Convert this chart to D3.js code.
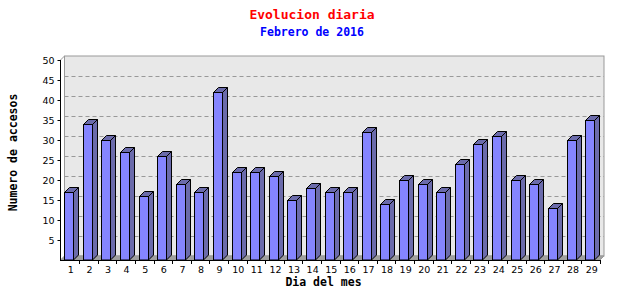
<!DOCTYPE html>
<html>
<head>
<meta charset="utf-8">
<script src="https://cdn.jsdelivr.net/npm/d3@7"></script>
<style>
    body { margin: 0; background: #fff; }
    svg { display: block; }
</style>
</head>
<body>
<div id="chart"></div>
<script>
//---------------------------------//
// Data                            //
//---------------------------------//

var days = ['1','2','3','4','5','6','7','8','9','10','11','12','13','14','15',
            '16','17','18','19','20','21','22','23','24','25','26','27','28','29'];
var visits = [17, 34, 30, 27, 16, 26, 19, 17, 42, 22, 22, 21, 15, 18, 17,
              17, 32, 14, 20, 19, 17, 24, 29, 31, 20, 19, 13, 30, 35];
var yTicks = [5, 10, 15, 20, 25, 30, 35, 40, 45, 50];

var title = 'Evolucion diaria';
var subtitle = 'Febrero de 2016';
var xTitle = 'Dia del mes';
var yTitle = 'Numero de accesos';

//---------------------------------//
// Chart                           //
//---------------------------------//

var Chart = {};

Chart.init = function() {
    Chart.width = 640;
    Chart.height = 300;
    Chart.depth = 4;                 //3D offset of the back wall
    Chart.barDepth = 5;              //3D offset of the bars
    Chart.mono = '"DejaVu Sans Mono", monospace';

    Chart.svg = d3.select('#chart').append('svg')
        .attr('width', Chart.width)
        .attr('height', Chart.height);

    Chart.x = d3.scaleBand().domain(days).range([60.5, 600]).padding(0);
    Chart.y = d3.scaleLinear().domain([0, 50]).range([260, 60]);

    Chart.drawWall();
    Chart.drawBars();
    Chart.drawAxes();
    Chart.drawTitles();
};

Chart.drawWall = function() {
    var x = Chart.x, y = Chart.y, d = Chart.depth, svg = Chart.svg;
    var left = x.range()[0], right = x.range()[1];

    svg.append('rect')                                   //back wall
        .attr('x', left + d).attr('y', y(50) - d)
        .attr('width', right + d - left - d)
        .attr('height', y(0) - y(50))
        .attr('fill', '#e8e8e8')
        .attr('stroke', '#999');

    svg.append('line')                                   //top-left edge
        .attr('x1', left).attr('y1', y(50))
        .attr('x2', left + d).attr('y2', y(50) - d)
        .attr('stroke', '#999');

    svg.selectAll('.grid').data(yTicks.slice(0, -1)).enter().append('line')
        .attr('x1', left + d).attr('x2', right + d)
        .attr('y1', function(v) { return y(v) - d + 0.5; })
        .attr('y2', function(v) { return y(v) - d + 0.5; })
        .attr('stroke', '#999')
        .attr('stroke-dasharray', '4,3');

    svg.append('polygon')                                //floor
        .attr('points', [[left, y(0)], [right, y(0)], [right + d, y(0) - d], [left + d, y(0) - d]].join(' '))
        .attr('fill', '#a0a0a0')
        .attr('stroke', '#999');
};

Chart.drawBars = function() {
    var x = Chart.x, y = Chart.y, b = Chart.barDepth;
    var step = x.step();

    var g = Chart.svg.selectAll('.bar').data(visits).enter().append('g')
        .attr('stroke', '#000')
        .attr('stroke-width', 1)
        .attr('stroke-linejoin', 'miter');

    var x0 = function(v, i) { return Math.round(x(days[i]) + step * 0.2) + 0.5; };
    var w = 9;

    g.append('polygon')                                  //side face
        .attr('fill', '#6b6bab')
        .attr('points', function(v, i) {
            var a = x0(v, i) + w, top = Math.round(y(v)) + 0.5, bot = y(0);
            return [[a, top], [a + b, top - b], [a + b, bot - b], [a, bot]].join(' ');
        });

    g.append('polygon')                                  //top face
        .attr('fill', '#6b6bab')
        .attr('points', function(v, i) {
            var a = x0(v, i), top = Math.round(y(v)) + 0.5;
            return [[a, top], [a + b, top - b], [a + w + b, top - b], [a + w, top]].join(' ');
        });

    g.append('rect')                                     //front face
        .attr('fill', '#8585ff')
        .attr('x', x0)
        .attr('y', function(v) { return Math.round(y(v)) + 0.5; })
        .attr('width', w)
        .attr('height', function(v) { return y(0) - Math.round(y(v)) - 0.5; });
};

Chart.drawAxes = function() {
    var x = Chart.x, y = Chart.y, svg = Chart.svg;
    var left = x.range()[0], right = x.range()[1];
    var tickFont = '"DejaVu Sans", sans-serif';

    svg.append('line')                                   //y axis
        .attr('x1', left).attr('x2', left)
        .attr('y1', y(50)).attr('y2', y(0) + 1)
        .attr('stroke', '#000');

    svg.selectAll('.ytick').data(yTicks).enter().append('line')
        .attr('x1', left - 3).attr('x2', left)
        .attr('y1', function(v) { return y(v) + 0.5; })
        .attr('y2', function(v) { return y(v) + 0.5; })
        .attr('stroke', '#000');

    svg.selectAll('.ylabel').data(yTicks).enter().append('text')
        .attr('x', left - 6)
        .attr('y', function(v) { return y(v) + 4; })
        .attr('text-anchor', 'end')
        .attr('font-family', tickFont)
        .attr('font-size', '9.5px')
        .text(function(v) { return v; });

    svg.append('line')                                   //x axis
        .attr('x1', left).attr('x2', right)
        .attr('y1', y(0) + 0.5).attr('y2', y(0) + 0.5)
        .attr('stroke', '#000');

    svg.selectAll('.xtick').data(days).enter().append('line')
        .attr('x1', function(dd) { return Math.round(x(dd) + x.step()) + 0.5; })
        .attr('x2', function(dd) { return Math.round(x(dd) + x.step()) + 0.5; })
        .attr('y1', y(0)).attr('y2', y(0) + 4)
        .attr('stroke', '#000');

    svg.selectAll('.xlabel').data(days).enter().append('text')
        .attr('x', function(dd) { return x(dd) + x.bandwidth() / 2 + 1; })
        .attr('y', y(0) + 13)
        .attr('text-anchor', 'middle')
        .attr('font-family', tickFont)
        .attr('font-size', '9.5px')
        .text(function(dd) { return dd; });
};

Chart.drawTitles = function() {
    var svg = Chart.svg;

    svg.append('text')
        .attr('x', 312).attr('y', 18.5)
        .attr('text-anchor', 'middle')
        .attr('font-family', Chart.mono).attr('font-weight', 'bold')
        .attr('font-size', '13px').attr('fill', '#f00')
        .text(title);

    svg.append('text')
        .attr('x', 312).attr('y', 36)
        .attr('text-anchor', 'middle')
        .attr('font-family', Chart.mono).attr('font-weight', 'bold')
        .attr('font-size', '11.5px').attr('fill', '#00f')
        .text(subtitle);

    svg.append('text')
        .attr('x', 323.5).attr('y', 286)
        .attr('text-anchor', 'middle')
        .attr('font-family', Chart.mono).attr('font-weight', 'bold')
        .attr('font-size', '11.5px')
        .text(xTitle);

    svg.append('text')
        .attr('transform', 'translate(16.5,152.5) rotate(-90)')
        .attr('text-anchor', 'middle')
        .attr('font-family', Chart.mono).attr('font-weight', 'bold')
        .attr('font-size', '11.5px')
        .text(yTitle);
};

document.addEventListener('DOMContentLoaded', Chart.init);
</script>
</body>
</html>
